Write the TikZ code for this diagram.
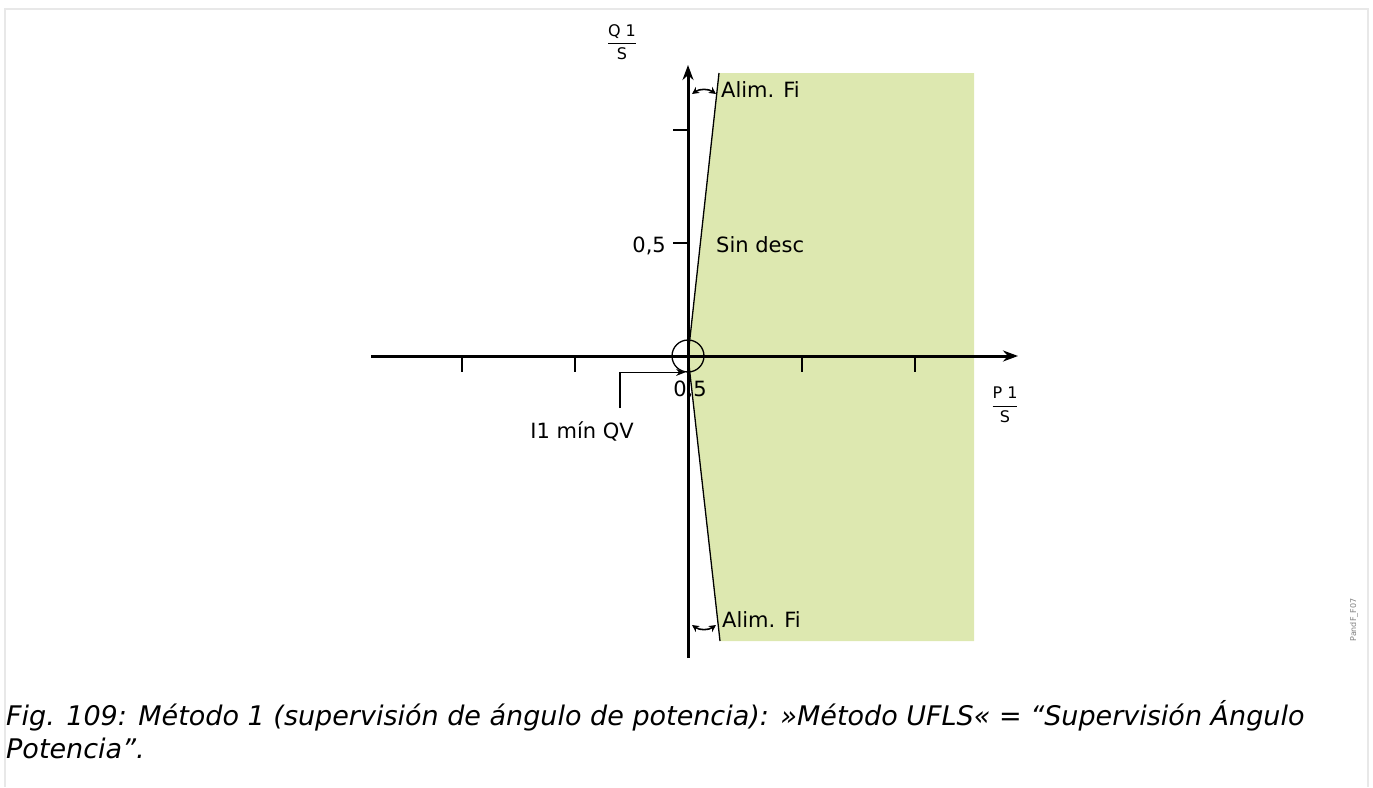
\documentclass[tikz,border=0pt]{standalone}
\usepackage{fontspec}
\setmainfont{DejaVu Sans}
\usepackage{amsmath}
\usepackage{xcolor}
\usetikzlibrary{arrows.meta,positioning}
\definecolor{zonegreen}{RGB}{221,232,176}
\definecolor{framegray}{RGB}{232,232,232}

\begin{document}
\begin{tikzpicture}[x=1pt, y=-1pt,
        axis/.style  ={line width=3pt, -{Stealth[length=15pt,width=11pt]}},
        tick/.style  ={line width=1.6pt},
        bound/.style ={line width=1.3pt},
        angarr/.style={line width=1.6pt, {Stealth[length=7pt,width=7pt]}-{Stealth[length=7pt,width=7pt]}},
        lbl/.style   ={font=\fontsize{21}{25}\selectfont, inner sep=0pt},
        frac/.style  ={font=\fontsize{16}{19}\selectfont, inner sep=0pt},
        capt/.style  ={font=\itshape\fontsize{27}{32}\selectfont, inner sep=0pt, anchor=base west},
    ]
    \useasboundingbox (0,0) rectangle (1373,787);

    % page frame
    \draw[framegray, line width=2pt] (5,787) -- (5,9) -- (1368,9) -- (1368,787);

    % key points
    \coordinate (O)      at (688,356);
    \coordinate (limtop) at (719,73);
    \coordinate (limbot) at (720,641);

    % no-trip zone
    \fill[zonegreen] (O) -- (limtop) -- (974,73) -- (974,641) -- (limbot) -- cycle;
    \draw[bound] (O) -- (limtop);
    \draw[bound] (O) -- (limbot);

    % axes
    \coordinate (xmin) at (371,356);
    \coordinate (xmax) at (1018,356);
    \coordinate (ymin) at (688,658);
    \coordinate (ymax) at (688,65);
    \draw[axis] (xmin) -- (xmax);
    \draw[axis] (ymin) -- (ymax);
    \foreach \x in {462,575,802,915}
        \draw[tick] (\x,356) -- (\x,372);
    \foreach \y in {130,243}
        \draw[tick] (673,\y) -- (688,\y);

    % axis labels
    \node[frac] (qlbl) at (622,42)   {$\dfrac{\text{Q 1}}{\text{S}}$};
    \node[frac] (plbl) at (1005,405) {$\dfrac{\text{P 1}}{\text{S}}$};
    \node[lbl, anchor=base east] (yhalf) at (666,252) {0,5};
    \node[lbl, anchor=base]      (xhalf) at (690,396) {0,5};

    % zone labels
    \node[lbl, anchor=base west] (sind)   at (716,252) {Sin desc};
    \node[lbl, anchor=base west] (alimup) at (721,97)  {Alim. Fi};
    \node[lbl, anchor=base west] (alimdn) at (722,627) {Alim. Fi};

    % angle arrows
    \coordinate (atl) at (692,94);
    \coordinate (atr) at (716,94);
    \coordinate (abl) at (692,625);
    \coordinate (abr) at (716,625);
    \draw[angarr] (atl) to[bend left=35]  (atr);
    \draw[angarr] (abl) to[bend right=35] (abr);

    % minimum current circle
    \node[draw, circle, line width=1.3pt, minimum size=32pt, inner sep=0pt] (qvmin) at (O) {};
    \node[lbl, anchor=base east] (qvlbl) at (634,438) {I1 mín QV};
    \coordinate (qvfoot) at (620,408);
    \draw[line width=1.3pt, -{Stealth[length=9pt,width=7pt]}] (qvfoot) |- (qvmin.-100);

    % figure id
    \node[rotate=90, font=\fontsize{8}{9}\selectfont, text=gray, inner sep=0pt] (figid) at (1354,620) {PandF\_F07};

    % caption
    \node[capt] (cap1) at (6,725) {Fig. 109: Método 1 (supervisión de ángulo de potencia): »Método UFLS« = “Supervisión Ángulo};
    \node[capt] (cap2) at (6,758) {Potencia”.};
\end{tikzpicture}
\end{document}
